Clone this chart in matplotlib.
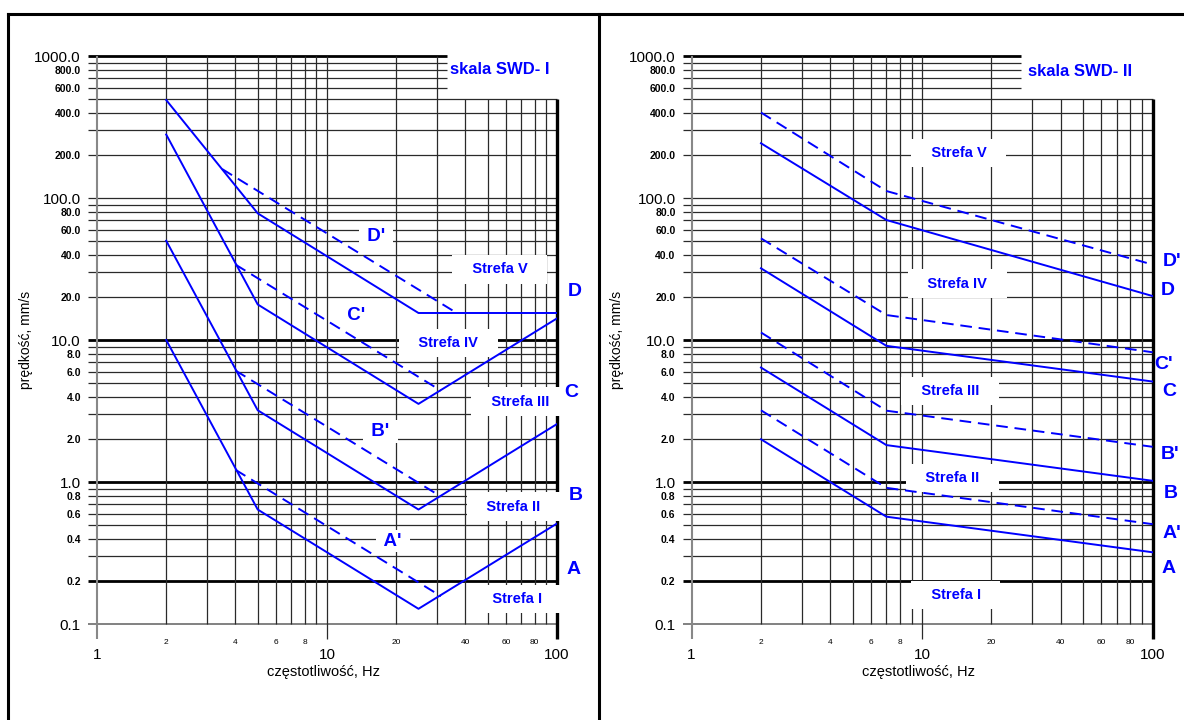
import matplotlib
matplotlib.use('Agg')
import matplotlib.pyplot as plt
from matplotlib.lines import Line2D

plt.rcParams['font.family'] = ['Liberation Sans', 'DejaVu Sans']

BLUE = '#0000ff'

# skala SWD-I  (czestotliwosc Hz, predkosc mm/s)
f1 = [2, 5, 25, 100]
A1 = [10.0, 0.64, 0.128, 0.51]
B1 = [50.0, 3.2, 0.64, 2.56]
C1 = [280.0, 17.8, 3.55, 14.2]
D1 = [490.0, 78.0, 15.5, 15.5]
f1p = [4, 31.3]
A1p = [1.22, 0.157]
B1p = [6.1, 0.79]
C1p = [34.0, 4.4]
f1dp = [3.5, 35.5]
D1p = [160.0, 16.0]

# skala SWD-II
f2 = [2, 7, 100]
A2 = [2.0, 0.57, 0.32]
A2p = [3.2, 0.91, 0.505]
B2 = [6.4, 1.82, 1.02]
B2p = [11.3, 3.18, 1.77]
C2 = [32.0, 9.1, 5.1]
C2p = [52.0, 15.0, 8.2]
D2 = [243.0, 70.0, 20.4]
D2p = [400.0, 112.0, 34.0]

grid_y = [m * 10.0 ** e for e in range(-1, 3) for m in range(1, 10)] + [1000.0]
grid_x = [m * 10.0 ** e for e in range(0, 2) for m in range(1, 10)] + [100.0]
thick_y = [1000.0, 10.0, 1.0, 0.2]

y_major = [0.1, 1, 10, 100, 1000]
y_major_lab = ['0.1', '1.0', '10.0', '100.0', '1000.0']
y_minor = [0.2, 0.4, 0.6, 0.8, 2, 4, 6, 8, 20, 40, 60, 80, 200, 400, 600, 800]
y_minor_lab = ['0.2', '0.4', '0.6', '0.8', '2.0', '4.0', '6.0', '8.0',
               '20.0', '40.0', '60.0', '80.0', '200.0', '400.0', '600.0', '800.0']
x_major = [1, 10, 100]
x_major_lab = ['1', '10', '100']
x_minor = [2, 4, 6, 8, 20, 40, 60, 80]
x_minor_lab = ['2', '4', '6', '8', '20', '40', '60', '80']


def is_in(v, vals):
    return any(abs(v - t) < 1e-6 * t for t in vals)


def panel(ax, hline_end, vcut, curves, title, title_pos, zones, inner, side, ylab_x):
    ax.set_xscale('log')
    ax.set_yscale('log')
    ax.set_xlim(1, 100)
    ax.set_ylim(0.1, 1000)
    for s in ax.spines.values():
        s.set_visible(False)

    # siatka
    for y in grid_y:
        x_end = hline_end if y >= 550 else 100
        if is_in(y, thick_y):
            lw, col = 2.0, 'black'
        elif is_in(y, [0.1]):
            lw, col = 1.3, '#777777'
        else:
            lw, col = 0.9, '#2a2a2a'
        ax.hlines(y, 0.914, x_end, colors=col, lw=lw, clip_on=False, zorder=1)
    for x in grid_x:
        y_top = 500 if x >= vcut else 1000
        y_bot = 0.0784 if is_in(x, x_major) else 0.1
        if is_in(x, [1]):
            lw, col = 1.5, '#888888'
        elif is_in(x, [100]):
            lw, col = 2.4, 'black'
        else:
            lw, col = 0.9, '#2a2a2a'
        ax.vlines(x, y_bot, y_top, colors=col, lw=lw, clip_on=False, zorder=1)

    ax.set_yticks(y_major, y_major_lab, fontsize=11)
    ax.set_yticks(y_minor, y_minor_lab, minor=True, fontsize=7.5, fontweight='bold')
    ax.set_xticks(x_major, x_major_lab, fontsize=11)
    ax.set_xticks(x_minor, x_minor_lab, minor=True, fontsize=6)
    ax.tick_params(axis='y', which='both', length=0, pad=11.5)
    ax.tick_params(axis='x', which='major', length=0, pad=17)
    ax.tick_params(axis='x', which='minor', length=0, pad=11)

    ax.set_xlabel('częstotliwość, Hz', fontsize=10.5)
    ax.xaxis.set_label_coords(0.492, -0.072)
    ax.set_ylabel('prędkość, mm/s', fontsize=10)
    ax.yaxis.set_label_coords(ylab_x, 0.5)

    for f, v, dashed in curves:
        ax.plot(f, v, color=BLUE, lw=1.4,
                linestyle=(0, (6, 3.5)) if dashed else '-', zorder=3)

    ax.text(title_pos[0], title_pos[1], title, color=BLUE, fontsize=12,
            fontweight='bold', ha='center', va='center', zorder=5)
    for f, v, s in zones:
        ax.text(f, v, '   ' + s + '   ', color=BLUE, fontsize=10.5, fontweight='bold',
                ha='center', va='center', zorder=2,
                bbox=dict(fc='white', ec='none', boxstyle='square,pad=0.5'))
    for f, v, s in inner:
        ax.text(f, v, ' ' + s + ' ', color=BLUE, fontsize=13.5, fontweight='bold',
                ha='center', va='center', zorder=2,
                bbox=dict(fc='white', ec='none', boxstyle='square,pad=0.15'))
    for f, v, s in side:
        ax.text(f, v, s, color=BLUE, fontsize=14, fontweight='bold',
                ha='center', va='center', zorder=5, clip_on=False)


fig = plt.figure(figsize=(11.84, 7.2), dpi=100)
ax1 = fig.add_axes([0.0819, 0.1333, 0.3885, 0.7889])
ax2 = fig.add_axes([0.5841, 0.1333, 0.3894, 0.7889])

panel(ax1, 33.2, 40,
      [(f1, A1, False), (f1, B1, False), (f1, C1, False), (f1, D1, False),
       (f1p, A1p, True), (f1p, B1p, True), (f1p, C1p, True), (f1dp, D1p, True)],
      'skala SWD- I', (56.5, 800),
      [(56.3, 31.5, 'Strefa V'), (33.8, 9.5, 'Strefa IV'), (69, 3.68, 'Strefa III'),
       (64.9, 0.67, 'Strefa II'), (67.4, 0.15, 'Strefa I')],
      [(16.3, 53.4, "D'"), (13.4, 15.0, "C'"), (17.1, 2.26, "B'"), (19.4, 0.384, "A'")],
      [(119.7, 21.9, 'D'), (115, 4.25, 'C'), (121, 0.81, 'B'), (118.6, 0.243, 'A')],
      -0.139)

panel(ax2, 26.9, 30,
      [(f2, A2, False), (f2, B2, False), (f2, C2, False), (f2, D2, False),
       (f2, A2p, True), (f2, B2p, True), (f2, C2p, True), (f2, D2p, True)],
      'skala SWD- II', (48.3, 784),
      [(14.4, 208, 'Strefa V'), (14.2, 24.9, 'Strefa IV'), (13.2, 4.37, 'Strefa III'),
       (13.5, 1.07, 'Strefa II'), (14.0, 0.16, 'Strefa I')],
      [],
      [(121, 36, "D'"), (116.7, 22.2, 'D'), (111, 6.67, "C'"), (118, 4.32, 'C'),
       (119, 1.55, "B'"), (119.5, 0.83, 'B'), (121, 0.435, "A'"), (117, 0.247, 'A')],
      -0.147)

# ramki
frame = dict(color='black', lw=2.2, transform=fig.transFigure)
fig.add_artist(Line2D([0.0068, 1.0], [0.9806, 0.9806], **frame))
fig.add_artist(Line2D([0.0068, 0.0068], [0.0, 0.9806], **frame))
fig.add_artist(Line2D([0.5055, 0.5055], [0.0, 0.9806], **frame))

fig.savefig('out.png', dpi=100)
